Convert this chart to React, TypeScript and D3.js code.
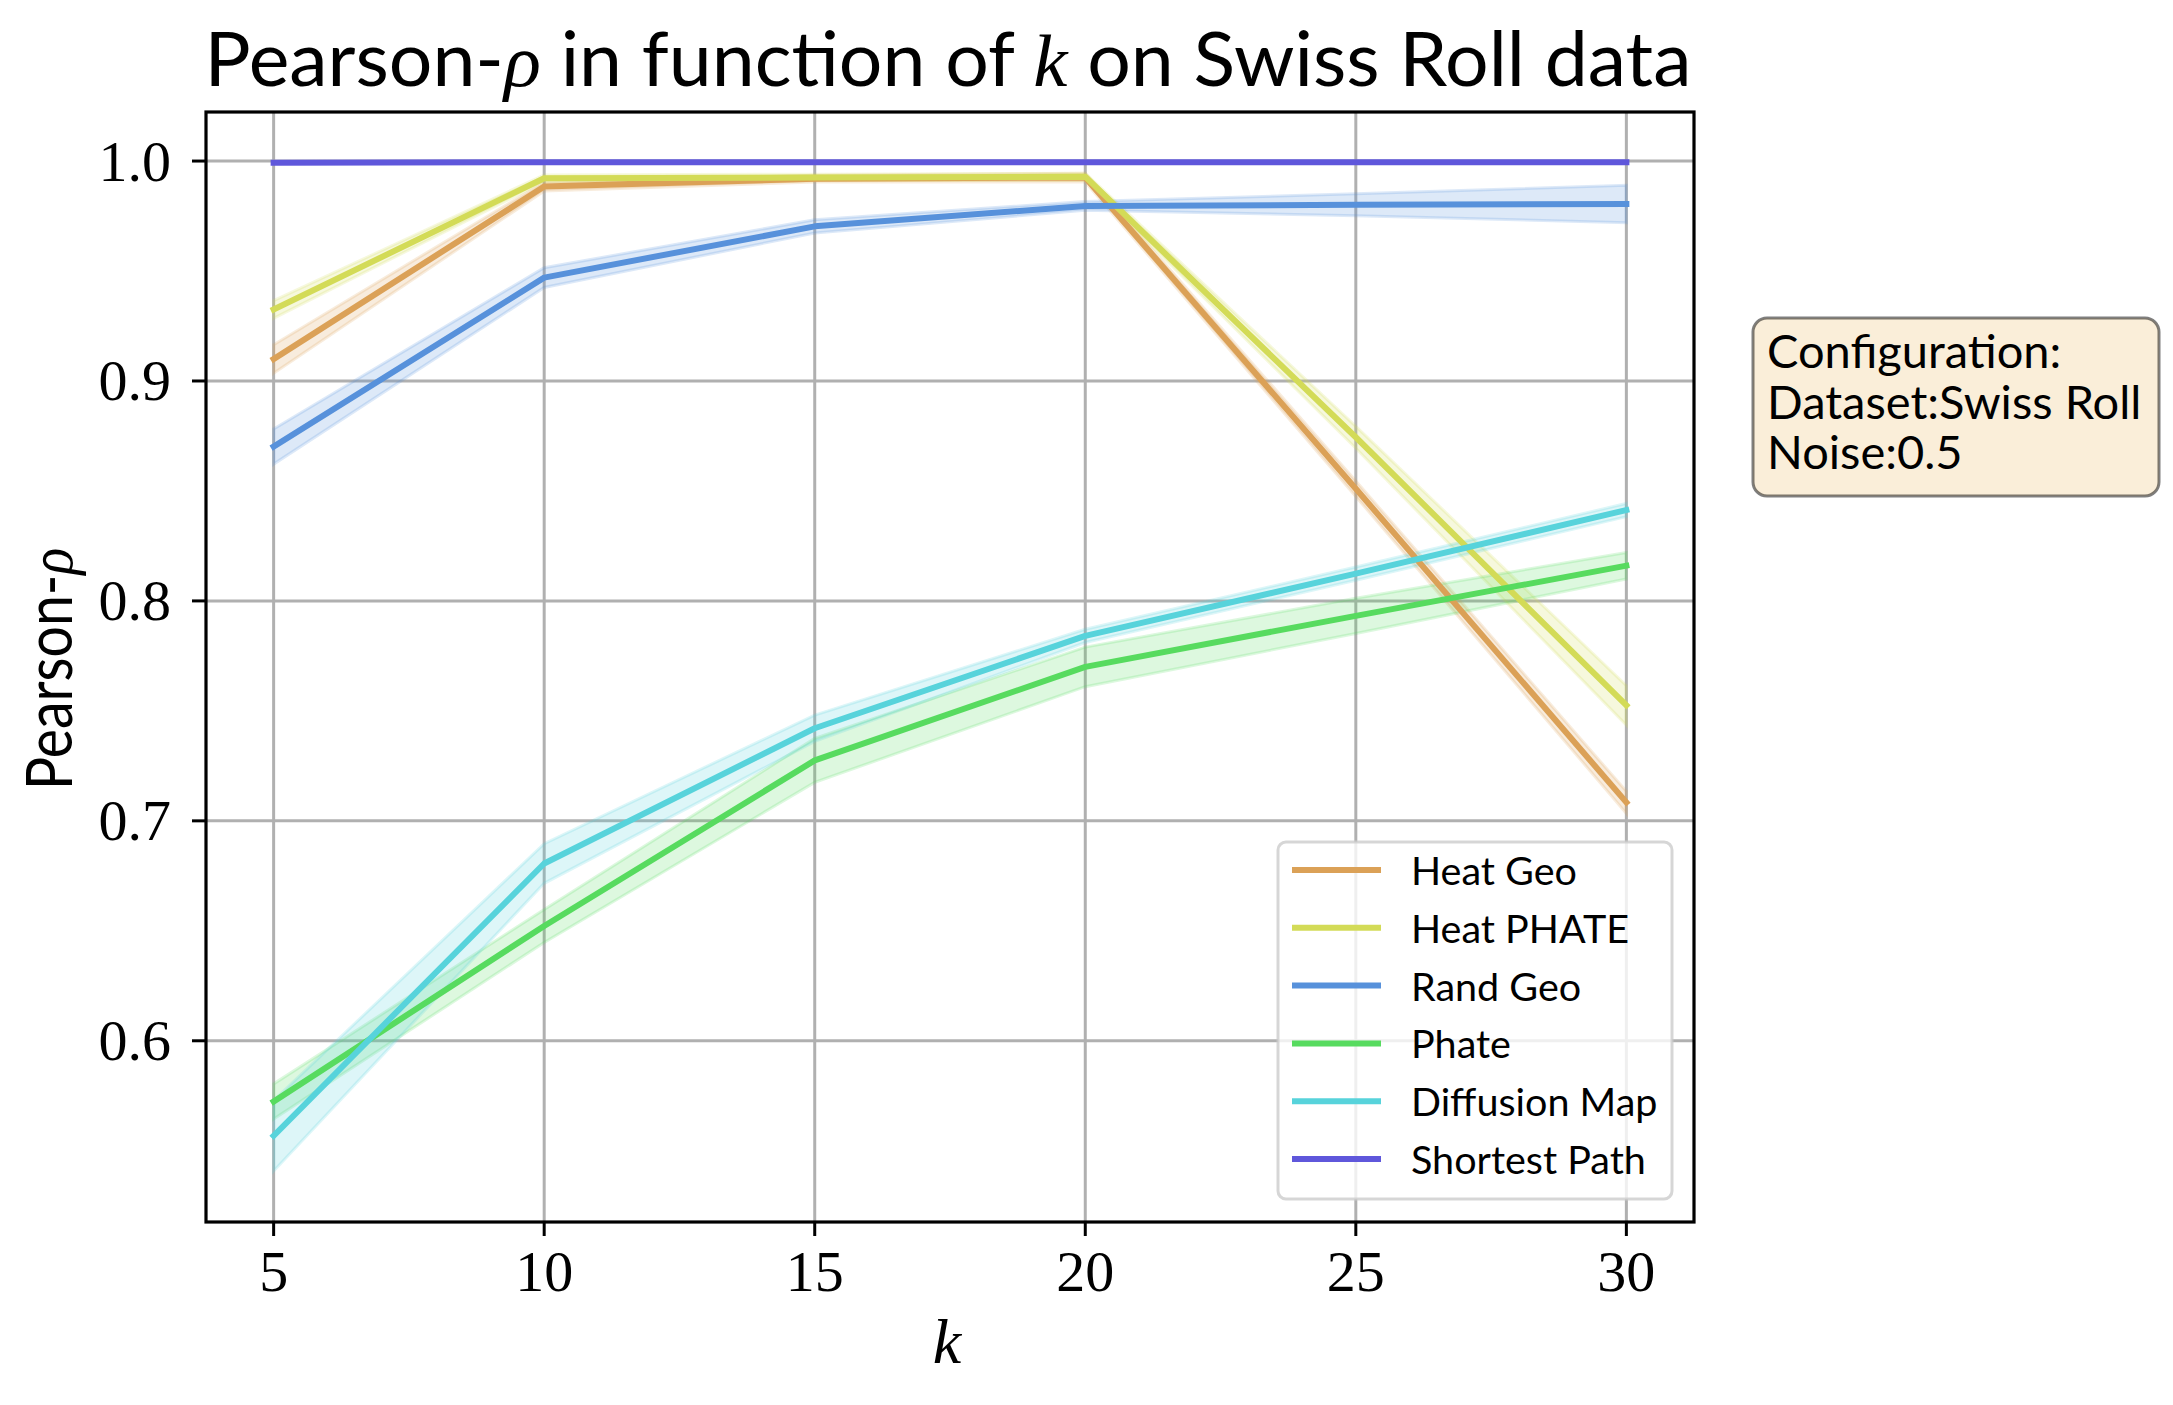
import React from "react";
import * as d3 from "d3";

const kValues = [5, 10, 15, 20, 25, 30];

const seriesNames = ["Heat Geo", "Heat PHATE", "Rand Geo", "Phate", "Diffusion Map", "Shortest Path"];

const heatGeo = [0.910, 0.9884, 0.992, 0.9925, 0.851, 0.7084];
const heatGeoErr = [0.0065, 0.002, 0.0015, 0.002, 0.0035, 0.005];

const heatPhate = [0.9325, 0.9922, 0.9925, 0.9929, 0.8744, 0.7525];
const heatPhateErr = [0.004, 0.0015, 0.0015, 0.0015, 0.005, 0.009];

const randGeo = [0.8702, 0.947, 0.9703, 0.9796, 0.9801, 0.9805];
const randGeoErr = [0.008, 0.0045, 0.003, 0.002, 0.005, 0.0085];

const phate = [0.5724, 0.6522, 0.7275, 0.770, 0.7932, 0.816];
const phateErr = [0.008, 0.0075, 0.010, 0.009, 0.008, 0.006];

const diffusionMap = [0.5568, 0.6806, 0.7421, 0.7841, 0.8124, 0.8413];
const diffusionMapErr = [0.016, 0.009, 0.006, 0.003, 0.003, 0.003];

const shortestPath = [0.9992, 0.9995, 0.9995, 0.9995, 0.9995, 0.9995];
const shortestPathErr = [0.0003, 0.0002, 0.0002, 0.0002, 0.0002, 0.0002];

const xTicks = [5, 10, 15, 20, 25, 30];
const yTicks = [0.6, 0.7, 0.8, 0.9, 1.0];

const configLines = ["Configuration:", "Dataset:Swiss Roll", "Noise:0.5"];

// seaborn hls palette (12 hues), l=0.6, s=0.65
const seriesHues = [33.6, 63.6, 213.6, 123.6, 183.6, 243.6];

const W = 2173;
const H = 1405;
const M = { left: 206, right: 1694, top: 112, bottom: 1222 };

const SANS = "Lato, 'Open Sans', 'DejaVu Sans', sans-serif";
const SERIF = "'Liberation Serif', 'DejaVu Serif', serif";

export default function App() {
  const x = d3.scaleLinear().domain([3.75, 31.25]).range([M.left, M.right]);
  const y = d3.scaleLinear().domain([0.5176, 1.0223]).range([M.bottom, M.top]);

  const means = [heatGeo, heatPhate, randGeo, phate, diffusionMap, shortestPath];
  const errs = [heatGeoErr, heatPhateErr, randGeoErr, phateErr, diffusionMapErr, shortestPathErr];

  const series = seriesNames.map((name, i) => ({
    name,
    color: d3.hsl(seriesHues[i], 0.65, 0.6).formatHex(),
    pts: kValues.map((k, j) => ({ k, v: means[i][j], e: errs[i][j] })),
  }));

  const line = d3
    .line<{ k: number; v: number }>()
    .x((d) => x(d.k))
    .y((d) => y(d.v));
  const area = d3
    .area<{ k: number; v: number; e: number }>()
    .x((d) => x(d.k))
    .y0((d) => y(d.v - d.e))
    .y1((d) => y(d.v + d.e));

  const legend = { x: 1278, y: 842, w: 394, h: 357 };
  const legendRow = 57.8;

  return (
    <svg
      width={W}
      height={H}
      viewBox={`0 0 ${W} ${H}`}
      style={{ position: "absolute", left: 0, top: 0, background: "#fff" }}
    >
      <rect x={0} y={0} width={W} height={H} fill="#fff" />
      <defs>
        <clipPath id="plotclip">
          <rect x={M.left} y={M.top} width={M.right - M.left} height={M.bottom - M.top} />
        </clipPath>
      </defs>

      {/* grid */}
      <g stroke="#b0b0b0" strokeWidth={3}>
        {xTicks.map((t) => (
          <line key={"gx" + t} x1={x(t)} x2={x(t)} y1={M.top} y2={M.bottom} />
        ))}
        {yTicks.map((t) => (
          <line key={"gy" + t} x1={M.left} x2={M.right} y1={y(t)} y2={y(t)} />
        ))}
      </g>

      {/* bands and lines */}
      <g clipPath="url(#plotclip)">
        {series.map((s) => (
          <path
            key={"band" + s.name}
            d={area(s.pts) || ""}
            fill={s.color}
            fillOpacity={0.2}
            stroke={s.color}
            strokeOpacity={0.2}
            strokeWidth={3}
          />
        ))}
        {series.map((s) => (
          <path
            key={"line" + s.name}
            d={line(s.pts) || ""}
            fill="none"
            stroke={s.color}
            strokeWidth={6}
            strokeLinejoin="round"
            strokeLinecap="square"
          />
        ))}
      </g>

      {/* spines */}
      <rect
        x={M.left}
        y={M.top}
        width={M.right - M.left}
        height={M.bottom - M.top}
        fill="none"
        stroke="#000"
        strokeWidth={3.2}
      />

      {/* ticks */}
      <g stroke="#000" strokeWidth={3}>
        {xTicks.map((t) => (
          <line key={"tx" + t} x1={x(t)} x2={x(t)} y1={M.bottom} y2={M.bottom + 14} />
        ))}
        {yTicks.map((t) => (
          <line key={"ty" + t} x1={M.left - 14} x2={M.left} y1={y(t)} y2={y(t)} />
        ))}
      </g>

      {/* tick labels */}
      <g fontFamily={SERIF} fontSize={58} fill="#000">
        {xTicks.map((t) => (
          <text key={"lx" + t} x={x(t)} y={1291} textAnchor="middle">
            {String(t)}
          </text>
        ))}
        {yTicks.map((t) => (
          <text key={"ly" + t} x={171} y={y(t) + 19.5} textAnchor="end">
            {t.toFixed(1)}
          </text>
        ))}
      </g>

      {/* axis labels */}
      <text
        x={947}
        y={1363}
        textAnchor="middle"
        fontFamily={SERIF}
        fontStyle="italic"
        fontSize={64}
      >
        k
      </text>
      <text
        transform="translate(72,669) rotate(-90)"
        textAnchor="middle"
        fontFamily={SANS}
        fontSize={63}
        textLength={242}
        lengthAdjust="spacingAndGlyphs"
      >
        Pearson-
        <tspan fontFamily={SERIF} fontStyle="italic">
          ρ
        </tspan>
      </text>

      {/* title */}
      <text
        x={948}
        y={86}
        textAnchor="middle"
        fontFamily={SANS}
        fontSize={75}
        textLength={1487}
        lengthAdjust="spacingAndGlyphs"
      >
        Pearson-
        <tspan fontFamily={SERIF} fontStyle="italic">
          ρ
        </tspan>
        {" in function of "}
        <tspan fontFamily={SERIF} fontStyle="italic">
          k
        </tspan>
        {" on Swiss Roll data"}
      </text>

      {/* legend */}
      <g>
        <rect
          x={legend.x}
          y={legend.y}
          width={legend.w}
          height={legend.h}
          rx={8}
          ry={8}
          fill="#fff"
          fillOpacity={0.8}
          stroke="#cccccc"
          strokeOpacity={0.8}
          strokeWidth={3}
        />
        {series.map((s, i) => {
          const cy = 870 + i * legendRow;
          return (
            <g key={"leg" + s.name}>
              <line x1={1292} x2={1381} y1={cy} y2={cy} stroke={s.color} strokeWidth={6} />
              <text x={1411} y={cy + 15} fontFamily={SANS} fontSize={39.5} fill="#000">
                {s.name}
              </text>
            </g>
          );
        })}
      </g>

      {/* configuration box */}
      <g>
        <rect
          x={1753}
          y={318}
          width={406}
          height={178}
          rx={14}
          ry={14}
          fill="#f5deb3"
          fillOpacity={0.5}
          stroke="#000"
          strokeOpacity={0.5}
          strokeWidth={3}
        />
        {configLines.map((t, i) => (
          <text key={"cfg" + i} x={1767} y={368 + i * 50.5} fontFamily={SANS} fontSize={47} fill="#000">
            {t}
          </text>
        ))}
      </g>
    </svg>
  );
}
